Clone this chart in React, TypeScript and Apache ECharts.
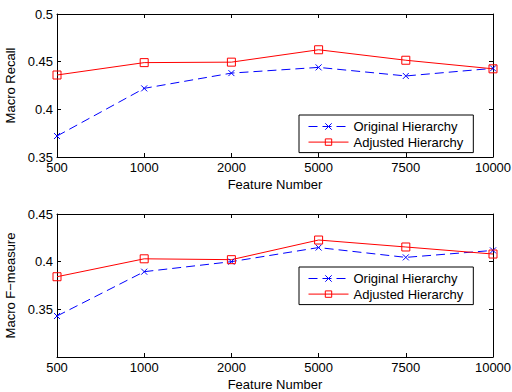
import React, { useEffect, useRef } from "react";
import * as echarts from "echarts";

const categories = ["500", "1000", "2000", "5000", "7500", "10000"];
const recallOriginal = [0.372, 0.422, 0.438, 0.444, 0.435, 0.443];
const recallAdjusted = [0.436, 0.449, 0.4495, 0.4625, 0.4515, 0.4425];
const fmeasureOriginal = [0.343, 0.3895, 0.4, 0.4148, 0.4045, 0.4118];
const fmeasureAdjusted = [0.3842, 0.403, 0.4021, 0.4227, 0.4154, 0.408];
const seriesNames = ["Original Hierarchy", "Adjusted Hierarchy"];

const FONT = "Liberation Sans";
const X_SYMBOL = "path://M0,0L10,10M10,0L0,10";

export default function App() {
  const ref = useRef<HTMLDivElement>(null);
  useEffect(() => {
    if (!ref.current) return;
    const chart = echarts.init(ref.current, undefined, { renderer: "svg" });
    const textStyle = { fontFamily: FONT, fontSize: 13, color: "#000" };
    const grids = [
      { left: 57, top: 14, width: 436, height: 143, outerBoundsMode: "none", containLabel: false },
      { left: 57, top: 214, width: 436, height: 143, outerBoundsMode: "none", containLabel: false },
    ];
    const axisLine = { show: true, lineStyle: { color: "#000", width: 1 } };
    const tickIn = { show: true, inside: true, length: 4, lineStyle: { color: "#000" } };
    const xAxes: any[] = [];
    const yAxes: any[] = [];
    const yRanges = [
      { min: 0.35, max: 0.5, name: "Macro Recall" },
      { min: 0.3, max: 0.45, name: "Macro F\u2212measure" },
    ];
    [0, 1].forEach((g) => {
      xAxes.push({
        type: "category",
        gridIndex: g,
        data: categories,
        boundaryGap: false,
        position: "bottom",
        axisLine,
        axisTick: tickIn,
        axisLabel: { ...textStyle, margin: 4 },
        splitLine: { show: false },
        name: "Feature Number",
        nameLocation: "middle",
        nameGap: 21,
        nameTextStyle: textStyle,
      });
      xAxes.push({
        type: "category",
        gridIndex: g,
        data: categories,
        boundaryGap: false,
        position: "top",
        axisLine,
        axisTick: tickIn,
        axisLabel: { show: false },
        splitLine: { show: false },
      });
      const r = yRanges[g];
      yAxes.push({
        type: "value",
        gridIndex: g,
        min: r.min,
        max: r.max,
        interval: 0.05,
        position: "left",
        axisLine,
        axisTick: tickIn,
        axisLabel: {
          ...textStyle,
          margin: 4,
          formatter: (v: number) => {
            if (g === 1 && Math.abs(v - 0.3) < 1e-6) return "";
            return String(Math.round(v * 100) / 100);
          },
        },
        splitLine: { show: false },
        name: r.name,
        nameLocation: "middle",
        nameGap: 34,
        nameTextStyle: textStyle,
      });
      yAxes.push({
        type: "value",
        gridIndex: g,
        min: r.min,
        max: r.max,
        interval: 0.05,
        position: "right",
        axisLine,
        axisTick: tickIn,
        axisLabel: { show: false },
        splitLine: { show: false },
      });
    });
    const mkOrig = (data: number[], g: number) => ({
      name: seriesNames[0],
      type: "line",
      xAxisIndex: g * 2,
      yAxisIndex: g * 2,
      data,
      symbol: X_SYMBOL,
      symbolSize: 6,
      lineStyle: { color: "#0000ff", width: 1, type: [9, 5] },
      itemStyle: { color: "#0000ff", borderColor: "#0000ff", borderWidth: 1 },
    });
    const mkAdj = (data: number[], g: number) => ({
      name: seriesNames[1],
      type: "line",
      xAxisIndex: g * 2,
      yAxisIndex: g * 2,
      data,
      symbol: "rect",
      symbolSize: 8,
      lineStyle: { color: "#ff0000", width: 1 },
      itemStyle: { color: "rgba(255,255,255,0)", borderColor: "#ff0000", borderWidth: 1 },
    });
    const legendBase = {
      orient: "vertical",
      left: 299,
      width: 169,
      backgroundColor: "#fff",
      borderColor: "#000",
      borderWidth: 1,
      borderRadius: 0,
      padding: [5, 10, 4, 9],
      itemWidth: 40,
      itemHeight: 8,
      itemGap: 2.6,
      textStyle: { ...textStyle },
      lineStyle: { width: 1 },
      itemStyle: { borderWidth: 1 },
      data: seriesNames,
      selectedMode: false,
    };
    chart.setOption({
      animation: false,
      backgroundColor: "#fff",
      grid: grids,
      xAxis: xAxes,
      yAxis: yAxes,
      legend: [
        { ...legendBase, top: 115 },
        { ...legendBase, top: 267 },
      ],
      series: [
        mkOrig(recallOriginal, 0),
        mkAdj(recallAdjusted, 0),
        mkOrig(fmeasureOriginal, 1),
        mkAdj(fmeasureAdjusted, 1),
      ],
    });
    return () => chart.dispose();
  }, []);
  return (
    <div
      ref={ref}
      style={{ position: "absolute", left: 0, top: 0, width: 512, height: 392 }}
    />
  );
}
